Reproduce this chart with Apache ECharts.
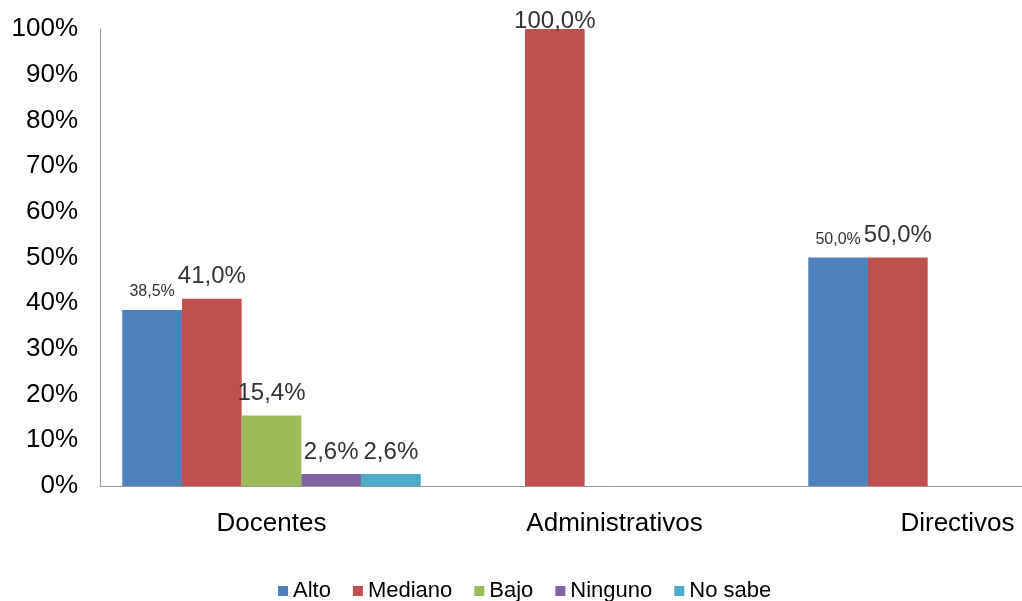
<!DOCTYPE html>
<html>
<head>
<meta charset="utf-8">
<script src="https://cdn.jsdelivr.net/npm/echarts@6/dist/echarts.min.js"></script>
<style>
  html, body { margin: 0; padding: 0; background: #fff; overflow: hidden; width: 1022px; height: 601px; }
  /* the original picture is cut off on the right, so the chart is wider than the window */
  #chart { width: 1129px; height: 601px; }
</style>
</head>
<body>
<div id="chart"></div>
<script>
const categories = ['Docentes', 'Administrativos', 'Directivos']
const seriesNames = ['Alto', 'Mediano', 'Bajo', 'Ninguno', 'No sabe']
const alto = [38.5, null, 50.0]
const mediano = [41.0, 100.0, 50.0]
const bajo = [15.4, null, null]
const ninguno = [2.6, null, null]
const noSabe = [2.6, null, null]
const yTicks = [0, 10, 20, 30, 40, 50, 60, 70, 80, 90, 100]

const colors = ['#4F81BD', '#C0504D', '#9BBB59', '#8064A2', '#4BACC6']
const font = '"Liberation Sans", Arial, sans-serif'

const fmt = (p) => p.value.toFixed(1).replace('.', ',') + '%'

const makeSeries = (name, values, idx, labelSize) => ({
  name,
  type: 'bar',
  barGap: '0%',
  barCategoryGap: '13%',
  itemStyle: { color: colors[idx] },
  label: {
    show: true,
    position: 'top',
    distance: 10,
    formatter: fmt,
    color: '#333',
    fontFamily: font,
    fontSize: labelSize
  },
  data: values.map((v) => {
    if (v == null) return '-'
    if (v >= 100) return { value: v, label: { offset: [0, 14] } }
    return v
  })
})

const chart = echarts.init(document.getElementById('chart'))
chart.setOption({
  animation: false,
  backgroundColor: '#fff',
  color: colors,
  grid: { left: 100, top: 29, bottom: 115, right: 0, containLabel: false },
  legend: {
    data: seriesNames,
    left: 273,
    top: 575,
    icon: 'rect',
    itemWidth: 10,
    itemHeight: 10,
    itemGap: 22,
    textStyle: { fontFamily: font, fontSize: 22, color: '#000' }
  },
  xAxis: {
    type: 'category',
    data: categories,
    axisLine: { lineStyle: { color: '#999', width: 1 } },
    axisTick: { show: false },
    axisLabel: { fontFamily: font, fontSize: 26, color: '#000', margin: 25 }
  },
  yAxis: {
    type: 'value',
    min: yTicks[0],
    max: yTicks[yTicks.length - 1],
    interval: 10,
    axisLine: { show: true, lineStyle: { color: '#999', width: 1 } },
    axisTick: { show: false },
    splitLine: { show: false },
    axisLabel: { fontFamily: font, fontSize: 26, color: '#000', margin: 22, formatter: '{value}%' }
  },
  series: [
    makeSeries(seriesNames[0], alto, 0, 16),
    makeSeries(seriesNames[1], mediano, 1, 24),
    makeSeries(seriesNames[2], bajo, 2, 24),
    makeSeries(seriesNames[3], ninguno, 3, 24),
    makeSeries(seriesNames[4], noSabe, 4, 24)
  ]
})
</script>
</body>
</html>
